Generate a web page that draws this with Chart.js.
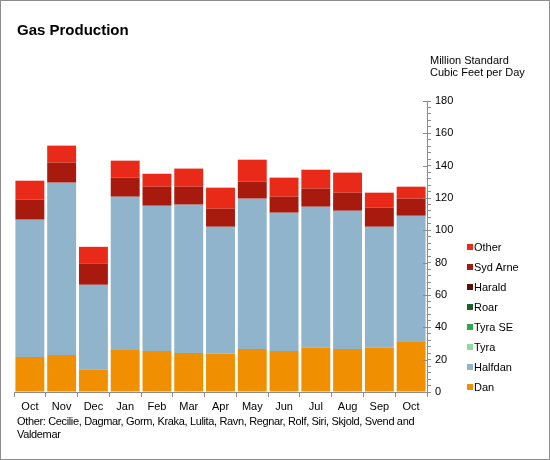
<!DOCTYPE html>
<html>
<head>
<meta charset="utf-8">
<script src="https://cdn.jsdelivr.net/npm/chart.js@4"></script>
<style>
  body { margin: 0; background: #fff; font-family: "Liberation Sans", Arial, sans-serif; }
  #wrap { position: relative; width: 550px; height: 460px; }
  #frame { position: absolute; left: 0; top: 0; width: 548px; height: 458px; border: 1px solid #8c8c8c; pointer-events: none; }
  canvas { position: absolute; left: 0; top: 0; }
  .title { position: absolute; left: 17px; top: 21px; font-size: 15px; font-weight: bold; color: #000; }
  .unit { position: absolute; left: 430px; top: 54px; font-size: 11px; line-height: 12px; color: #000; }
  .note { position: absolute; left: 17px; top: 415px; font-size: 11px; line-height: 13px; color: #000; letter-spacing: -0.35px; }
  #legend { position: absolute; left: 467px; top: 240px; font-size: 11px; color: #000; }
  #legend div { height: 20px; line-height: 14px; white-space: nowrap; }
  #legend span { display: inline-block; width: 6px; height: 6px; margin-right: 1px; vertical-align: 1px; }
</style>
</head>
<body>
<div id="wrap">
  <canvas id="chart" width="550" height="460"></canvas>
  <div class="title">Gas Production</div>
  <div class="unit">Million Standard<br>Cubic Feet per Day</div>
  <div id="legend"></div>
  <div class="note">Other: Cecilie, Dagmar, Gorm, Kraka, Lulita, Ravn, Regnar, Rolf, Siri, Skjold, Svend and<br>Valdemar</div>
  <div id="frame"></div>
</div>
<script>
// months on the x axis
const months = ["Oct", "Nov", "Dec", "Jan", "Feb", "Mar", "Apr", "May", "Jun", "Jul", "Aug", "Sep", "Oct"];

// field values, stacked bottom to top
const dan     = [21.7, 22.9, 13.8, 26.0, 25.4, 24.2, 23.7, 26.6, 25.4, 27.3, 26.6, 27.3, 31.0];
const halfdan = [84.9, 106.6, 52.5, 94.8, 89.8, 91.7, 78.5, 93.0, 85.5, 87.3, 85.5, 74.9, 78.0];
const tyra    = [0, 0, 0, 0, 0, 0, 0, 0, 0, 0, 0, 0, 0];
const tyraSE  = [0, 0, 0, 0, 0, 0, 0, 0, 0, 0, 0, 0, 0];
const roar    = [0, 0, 0, 0, 0, 0, 0, 0, 0, 0, 0, 0, 0];
const harald  = [0, 0, 0, 0, 0, 0, 0, 0, 0, 0, 0, 0, 0];
const sydArne = [12.4, 12.4, 13.0, 11.8, 11.8, 11.1, 11.2, 10.5, 9.9, 11.2, 11.2, 11.8, 10.6];
const other   = [11.7, 10.5, 10.5, 10.5, 8.0, 11.2, 13.0, 13.6, 11.8, 11.7, 12.4, 9.3, 7.4];

const yTicks = [0, 20, 40, 60, 80, 100, 120, 140, 160, 180];

const series = [
  { label: "Dan", data: dan, color: "#f09000" },
  { label: "Halfdan", data: halfdan, color: "#8fb4cc" },
  { label: "Tyra", data: tyra, color: "#90dc9c" },
  { label: "Tyra SE", data: tyraSE, color: "#2fa748" },
  { label: "Roar", data: roar, color: "#1e5e28" },
  { label: "Harald", data: harald, color: "#5c1008" },
  { label: "Syd Arne", data: sydArne, color: "#a8190e" },
  { label: "Other", data: other, color: "#e92a18" }
];

const axisGray = "#8c8c8c";

// major ticks cross the y axis line
const majorTicks = {
  id: "majorTicks",
  afterDraw(chart) {
    const y = chart.scales.y;
    const ctx = chart.ctx;
    ctx.save();
    ctx.strokeStyle = axisGray;
    ctx.lineWidth = 1;
    yTicks.forEach(v => {
      const py = Math.round(y.getPixelForValue(v)) + 0.5;
      ctx.beginPath();
      ctx.moveTo(y.left - 4, py);
      ctx.lineTo(y.left, py);
      ctx.stroke();
    });
    ctx.restore();
  }
};

new Chart(document.getElementById("chart"), {
  type: "bar",
  data: {
    labels: months,
    datasets: series.map(s => ({
      label: s.label,
      data: s.data,
      backgroundColor: s.color,
      borderWidth: 0,
      barPercentage: 0.91,
      categoryPercentage: 1
    }))
  },
  options: {
    responsive: false,
    animation: false,
    devicePixelRatio: 1,
    layout: { padding: { left: 14, top: 101, right: 0, bottom: 0 } },
    plugins: { legend: { display: false }, tooltip: { enabled: false }, title: { display: false } },
    scales: {
      x: {
        stacked: true,
        grid: { drawOnChartArea: false, offset: true, color: axisGray, tickLength: 5 },
        border: { color: axisGray },
        ticks: { color: "#000", font: { family: "Liberation Sans", size: 11 }, padding: 3, maxRotation: 0 },
        afterFit: s => { s.height = 68; }
      },
      y: {
        stacked: true,
        position: "right",
        min: 0,
        max: 180,
        grid: { drawOnChartArea: false, color: axisGray, tickLength: 4 },
        border: { color: axisGray },
        ticks: {
          stepSize: 4,
          autoSkip: false,
          color: "#000",
          padding: 4,
          font: { family: "Liberation Sans", size: 11 },
          callback: v => (yTicks.includes(v) ? v : "")
        },
        afterFit: s => { s.width = 123; }
      }
    }
  },
  plugins: [majorTicks]
});

// legend, top to bottom in reverse stacking order
const legend = document.getElementById("legend");
series.slice().reverse().forEach(s => {
  const row = document.createElement("div");
  row.innerHTML = '<span style="background:' + s.color + '"></span>' + s.label;
  legend.appendChild(row);
});
</script>
</body>
</html>
